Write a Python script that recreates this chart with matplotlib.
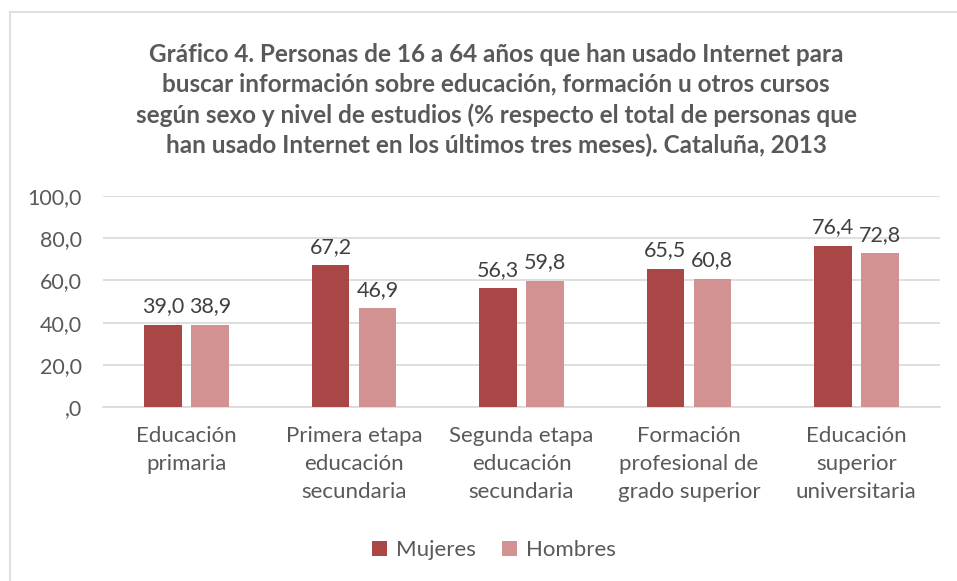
import matplotlib
matplotlib.use("Agg")
import matplotlib.pyplot as plt
import numpy as np
from matplotlib.lines import Line2D

categories = ["Educación\nprimaria", "Primera etapa\neducación\nsecundaria",
              "Segunda etapa\neducación\nsecundaria", "Formación\nprofesional de\ngrado superior",
              "Educación\nsuperior\nuniversitaria"]
mujeres = [39.0, 67.2, 56.3, 65.5, 76.4]
hombres = [38.9, 46.9, 59.8, 60.8, 72.8]
series_names = ["Mujeres", "Hombres"]
yticks = [0, 20, 40, 60, 80, 100]
ytick_labels = [",0", "20,0", "40,0", "60,0", "80,0", "100,0"]
title = ("Gráfico 4. Personas de 16 a 64 años que han usado Internet para\n"
         "buscar información sobre educación, formación u otros cursos\n"
         "según sexo y nivel de estudios (% respecto el total de personas que\n"
         "han usado Internet en los últimos tres meses). Cataluña, 2013")

plt.rcParams['font.family'] = ['Lato', 'DejaVu Sans']
TXT = "#595959"
C1 = "#A94646"
C2 = "#D39292"

fig = plt.figure(figsize=(9.57, 5.81), dpi=100)
ax = fig.add_axes([103/957, 1-407/581, 837/957, 211/581])

x = np.arange(len(categories))
w = 0.225
off = 0.14
b1 = ax.bar(x - off, mujeres, w, color=C1, label=series_names[0], zorder=3)
b2 = ax.bar(x + off, hombres, w, color=C2, label=series_names[1], zorder=3)

for bars, vals in ((b1, mujeres), (b2, hombres)):
    for r, v in zip(bars, vals):
        ax.annotate(f"{v:.1f}".replace(".", ","), (r.get_x() + r.get_width()/2, v),
                    xytext=(0, 6), textcoords="offset points", ha="center", va="bottom",
                    fontsize=15.5, color="#404040")

ax.set_xlim(-0.5, len(categories) - 0.5)
ax.set_ylim(0, 100)
ax.set_yticks(yticks)
ax.set_yticklabels(ytick_labels)
ax.set_xticks(x)
ax.set_xticklabels(categories, linespacing=1.5)
ax.tick_params(axis='y', length=0, labelsize=15.5, colors=TXT, pad=15)
ax.tick_params(axis='x', length=0, labelsize=16, colors=TXT, pad=14)
for lab in ax.get_xticklabels() + ax.get_yticklabels():
    lab.set_color(TXT)
ax.grid(axis='y', color="#D9D9D9", linewidth=1.2, zorder=0)
for s in ["top", "right", "left"]:
    ax.spines[s].set_visible(False)
ax.spines["bottom"].set_color("#D9D9D9")
ax.spines["bottom"].set_linewidth(1.2)

fig.text(496/957, 1-100/581, title, ha="center", va="center", fontsize=17.5,
         fontweight="bold", color=TXT, linespacing=1.37)

leg = fig.legend(handles=[b1, b2], labels=series_names, loc="center",
                 bbox_to_anchor=(494/957, 1-550/581), ncol=2, frameon=False,
                 fontsize=16, handlelength=0.65, handleheight=0.65, columnspacing=1.2,
                 handletextpad=0.4)
for t in leg.get_texts():
    t.set_color(TXT)

# outer border (chart area frame)
fig.add_artist(Line2D([10/957, 10/957], [0, 1-12/581], transform=fig.transFigure,
                      color="#D9D9D9", linewidth=1.2))
fig.add_artist(Line2D([10/957, 1], [1-12/581, 1-12/581], transform=fig.transFigure,
                      color="#D9D9D9", linewidth=1.2))

fig.savefig("out.png", dpi=100)
